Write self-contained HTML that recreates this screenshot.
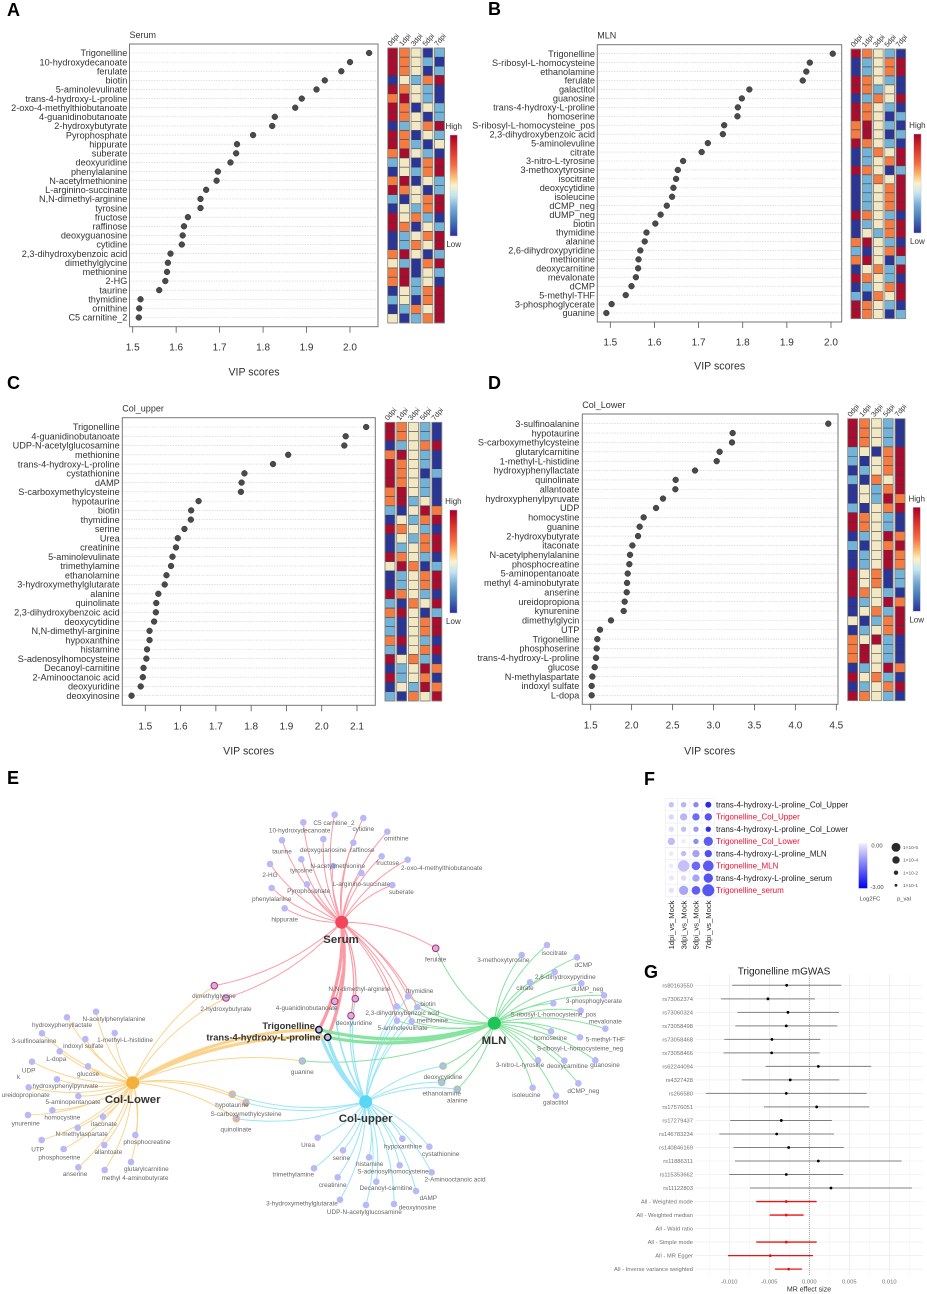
<!DOCTYPE html>
<html lang="en">
<head>
<meta charset="utf-8">
<title>Trigonelline metabolomics figure</title>
<style>
html,body{margin:0;padding:0;background:#fff;width:927px;height:1294px;overflow:hidden}
svg{display:block;font-family:"Liberation Sans",Arial,sans-serif;filter:blur(.3px)}
</style>
</head>
<body>
<svg id="fig" xmlns="http://www.w3.org/2000/svg" width="927" height="1294" viewBox="0 0 927 1294">
  <defs>
    <linearGradient id="heatGrad" x1="0" y1="0" x2="0" y2="1">
      <stop offset="0" stop-color="#a50026"/><stop offset=".14" stop-color="#d73027"/>
      <stop offset=".3" stop-color="#f46d43"/><stop offset=".42" stop-color="#fdc070"/>
      <stop offset=".5" stop-color="#fbf3c8"/><stop offset=".6" stop-color="#c4e4ef"/>
      <stop offset=".72" stop-color="#74add1"/><stop offset=".86" stop-color="#4575b4"/>
      <stop offset="1" stop-color="#2a2f95"/>
    </linearGradient>
    <linearGradient id="fcGrad" x1="0" y1="0" x2="0" y2="1">
      <stop offset="0" stop-color="#f1eefb"/><stop offset="1" stop-color="#0000ee"/>
    </linearGradient>
  </defs>
  <text x="7" y="16" font-size="18" font-weight="700" fill="#000">A</text>
  <text x="488" y="15" font-size="18" font-weight="700" fill="#000">B</text>
  <text x="7" y="389" font-size="18" font-weight="700" fill="#000">C</text>
  <text x="488" y="389" font-size="18" font-weight="700" fill="#000">D</text>
  <text x="7" y="784" font-size="18" font-weight="700" fill="#000">E</text>
  <text x="644" y="785" font-size="18" font-weight="700" fill="#000">F</text>
  <text x="644" y="978" font-size="18" font-weight="700" fill="#000">G</text>
  <g id="panels"></g>
  <g id="network"></g>
  <g id="dotmatrix"></g>
  <g id="forest"></g>
</svg>
<script>
/* ---------- heatmap level codes ---------- */
const R=2,O=1,Y=0,B=-1,N=-2;

/* ---------- Panel A data ---------- */
const labelsA=["Trigonelline","10-hydroxydecanoate","ferulate","biotin","5-aminolevulinate","trans-4-hydroxy-L-proline","2-oxo-4-methylthiobutanoate","4-guanidinobutanoate","2-hydroxybutyrate","Pyrophosphate","hippurate","suberate","deoxyuridine","phenylalanine","N-acetylmethionine","L-arginino-succinate","N,N-dimethyl-arginine","tyrosine","fructose","raffinose","deoxyguanosine","cytidine","2,3-dihydroxybenzoic acid","dimethylglycine","methionine","2-HG","taurine","thymidine","ornithine","C5 carnitine_2"];
const vipA=[2.044,2.0,1.98,1.942,1.923,1.889,1.874,1.827,1.821,1.777,1.74,1.738,1.725,1.696,1.693,1.669,1.656,1.656,1.627,1.618,1.615,1.613,1.587,1.581,1.579,1.575,1.561,1.518,1.515,1.514];
const ticksA=[1.5,1.6,1.7,1.8,1.9,2.0];
const heatA=[[R,O,Y,N,B],[R,O,Y,B,N],[R,O,Y,N,B],[N,Y,B,O,R],[R,O,Y,B,N],[O,R,Y,B,N],[R,O,N,Y,B],[R,O,Y,N,B],[N,B,Y,O,R],[R,O,N,Y,B],[R,O,B,N,Y],[O,R,Y,B,N],[B,Y,N,O,R],[N,Y,B,O,R],[O,R,N,Y,B],[R,O,Y,N,B],[B,N,Y,O,R],[N,Y,B,O,R],[R,Y,O,B,N],[R,O,N,Y,B],[N,B,Y,O,R],[N,B,O,Y,R],[O,R,Y,N,B],[Y,B,N,O,R],[O,R,N,Y,B],[O,R,B,Y,N],[N,Y,B,O,R],[B,Y,N,O,R],[N,B,O,Y,R],[Y,N,B,O,R]];

/* ---------- Panel B data ---------- */
const labelsB=["Trigonelline","S-ribosyl-L-homocysteine","ethanolamine","ferulate","galactitol","guanosine","trans-4-hydroxy-L-proline","homoserine","S-ribosyl-L-homocysteine_pos","2,3-dihydroxybenzoic acid","5-aminolevuline","citrate","3-nitro-L-tyrosine","3-methoxytyrosine","isocitrate","deoxycytidine","isoleucine","dCMP_neg","dUMP_neg","biotin","thymidine","alanine","2,6-dihydroxypyridine","methionine","deoxycarnitine","mevalonate","dCMP","5-methyl-THF","3-phosphoglycerate","guanine"];
const vipB=[2.004,1.952,1.944,1.936,1.815,1.798,1.789,1.788,1.758,1.755,1.721,1.707,1.665,1.653,1.649,1.643,1.640,1.628,1.614,1.602,1.582,1.578,1.568,1.564,1.563,1.558,1.548,1.535,1.503,1.491];
const ticksB=[1.5,1.6,1.7,1.8,1.9,2.0];
const heatB=[[R,O,Y,B,N],[N,B,Y,O,R],[N,B,Y,O,R],[R,O,Y,B,N],[R,O,B,Y,N],[N,B,O,Y,R],[R,O,Y,B,N],[R,O,Y,N,B],[O,R,Y,B,N],[O,R,Y,N,B],[R,O,Y,B,N],[N,B,O,Y,R],[N,B,Y,O,R],[R,O,Y,N,B],[N,B,O,Y,R],[N,B,Y,O,R],[N,B,Y,O,R],[N,B,Y,O,R],[R,O,Y,B,N],[N,B,Y,O,R],[N,Y,B,O,R],[O,R,Y,B,N],[B,N,Y,O,R],[O,R,Y,N,B],[N,Y,O,B,R],[R,O,Y,B,N],[N,B,Y,O,R],[B,N,O,Y,R],[R,O,Y,B,N],[R,O,Y,N,B]];

/* ---------- Panel C data ---------- */
const labelsC=["Trigonelline","4-guanidinobutanoate","UDP-N-acetylglucosamine","methionine","trans-4-hydroxy-L-proline","cystathionine","dAMP","S-carboxymethylcysteine","hypotaurine","biotin","thymidine","serine","Urea","creatinine","5-aminolevulinate","trimethylamine","ethanolamine","3-hydroxymethylglutarate","alanine","quinolinate","2,3-dihydroxybenzoic acid","deoxycytidine","N,N-dimethyl-arginine","hypoxanthine","histamine","S-adenosylhomocysteine","Decanoyl-carnitine","2-Aminooctanoic acid","deoxyuridine","deoxyinosine"];
const vipC=[2.126,2.068,2.064,1.905,1.862,1.781,1.773,1.771,1.651,1.630,1.629,1.611,1.592,1.587,1.577,1.573,1.560,1.555,1.537,1.531,1.530,1.525,1.512,1.512,1.505,1.503,1.495,1.493,1.487,1.461];
const ticksC=[1.5,1.6,1.7,1.8,1.9,2.0,2.1];
const heatC=[[R,O,Y,B,N],[R,O,Y,B,N],[N,B,Y,O,R],[O,R,Y,B,N],[R,O,Y,B,N],[R,O,Y,N,B],[R,O,Y,B,N],[O,R,Y,B,N],[O,R,B,Y,N],[B,N,Y,R,O],[N,Y,B,O,R],[R,O,Y,B,N],[N,Y,B,O,R],[N,B,Y,O,R],[R,O,Y,B,N],[Y,R,O,N,B],[N,B,Y,O,R],[N,B,Y,O,R],[R,O,Y,B,N],[B,N,O,Y,R],[O,R,Y,N,B],[B,N,Y,O,R],[B,N,Y,O,R],[O,R,Y,B,N],[B,N,Y,O,R],[R,Y,O,B,N],[N,B,Y,R,O],[R,B,Y,O,N],[N,Y,B,R,O],[B,N,O,Y,R]];

/* ---------- Panel D data ---------- */
const labelsD=["3-sulfinoalanine","hypotaurine","S-carboxymethylcysteine","glutarylcarnitine","1-methyl-L-histidine","hydroxyphenyllactate","quinolinate","allantoate","hydroxyphenylpyruvate","UDP","homocystine","guanine","2-hydroxybutyrate","itaconate","N-acetylphenylalanine","phosphocreatine","5-aminopentanoate","methyl 4-aminobutyrate","anserine","ureidopropiona","kynurenine","dimethylglycin","UTP","Trigonelline","phosphoserine","trans-4-hydroxy-L-proline","glucose","N-methylaspartate","indoxyl sulfate","L-dopa"];
const vipD=[4.402,3.234,3.226,3.075,3.039,2.774,2.538,2.534,2.383,2.298,2.147,2.098,2.078,2.009,1.980,1.972,1.952,1.944,1.940,1.915,1.903,1.748,1.614,1.581,1.573,1.565,1.549,1.520,1.512,1.512];
const ticksD=[1.5,2.0,2.5,3.0,3.5,4.0,4.5];
const heatD=[[R,O,Y,B,N],[R,O,Y,B,N],[R,O,Y,B,N],[B,Y,N,O,R],[B,N,Y,O,R],[N,B,Y,O,R],[B,N,O,Y,R],[N,Y,B,O,R],[N,Y,B,R,O],[B,N,Y,O,R],[R,O,Y,B,N],[R,O,Y,B,N],[N,B,Y,R,O],[B,N,Y,O,R],[N,B,Y,R,O],[N,B,Y,R,O],[R,Y,O,N,B],[R,Y,O,N,B],[R,O,Y,B,N],[N,B,Y,R,O],[N,Y,O,B,R],[Y,N,B,O,R],[N,B,Y,O,R],[O,Y,R,B,N],[O,R,Y,B,N],[O,R,Y,B,N],[N,B,Y,R,O],[R,Y,O,B,N],[N,B,Y,O,R],[R,O,Y,B,N]];

const timepoints=["0dpi","1dpi","3dpi","5dpi","7dpi"];
const heatLegendLabels=["High","Low"];

/* ---------- Panel E network (layout coordinates, not measured values) ---------- */
const hubNames=["Serum","MLN","Col-upper","Col-Lower"];
const serumLeaves=[["C5 carnitine_2",344,134,342,158],["cytidine",430,144,430,177],["10-hydroxydecanoate",250,157,239,181],["ornithine",502,185,529,205],["taurine",186,211,186,244],["deoxyguanosine",310,207,310,240],["raffinose",400,218,427,239],["2-HG",150,282,150,314],["tyrosine",244,268,244,301],["N-acetylmethionine",339,288,353,287],["fructose",485,259,503,279],["2-oxo-4-methylthiobutanoate",563,269,665,294],["L-arginino-succinate",424,309,424,342],["Pyrophosphate",261,343,266,362],["suberate",517,345,544,366],["phenylalanine",155,354,155,387],["hippurate",194,415,194,448]];
const mlnLeaves=[["isocitrate",201,75,223,98],["3-methoxytyrosine",125,105,70,120],["dCMP",291,112,310,135],["2,6-dihydroxypyridine",224,156,256,170],["citrate",150,187,135,204],["dUMP_neg",304,190,322,207],["3-phosphoglycerate",372,226,342,243],["S-ribosyl-L-homocysteine_pos",220,250,220,283],["mevalonate",302,272,376,304],["5-methyl-THF",376,326,376,358],["S-ribosyl-L-homocysteine_neg",300,352,300,385],["homoserine",213,334,211,354],["guanosine",346,421,375,434],["3-nitro-L-tyrosine",174,421,120,434],["deoxycarnitine",253,422,262,438],["dCMP_neg",295,490,310,512],["isoleucine",158,503,139,524],["galactitol",228,527,227,547]];
const upperLeaves=[["Urea",293,353,264,374],["hypoxanthine",547,356,549,379],["cystathionine",628,380,662,401],["serine",369,391,364,414],["histamine",447,412,449,432],["S-adenosylhomocysteine",539,436,519,454],["2-Aminooctanoic acid",635,457,705,478],["trimethylamine",282,445,220,463],["creatinine",353,472,338,494],["Decanoyl-carnitine",469,485,498,503],["dAMP",588,513,625,533],["3-hydroxymethylglutarate",360,539,246,550],["UDP-N-acetylglucosamine",438,555,433,575],["deoxyinosine",522,552,592,562]];
const lowerLeaves=[["N-acetylphenylalanine",288,65,342,87],["hydroxyphenyllactate",201,82,186,105],["3-sulfinoalanine",126,130,102,152],["1-methyl-L-histidine",344,129,375,149],["indoxyl sulfate",256,147,250,167],["L-dopa",179,184,169,206],["UDP",96,215,86,241],["glucose",264,229,264,251],["hydroxyphenylpyruvate",171,268,196,287],["ureidopropionate",86,292,77,315],["5-aminopentanoate",235,318,219,336],["homocystine",157,361,187,382],["ynurenine",84,375,77,400],["itaconate",309,380,312,401],["N-methylaspartate",233,413,245,432],["phosphocreatine",406,435,441,455],["UTP",125,450,113,478],["allantoate",313,465,325,485],["phosphoserine",191,477,178,502],["anserine",235,532,225,552],["methyl 4-aminobutyrate",314,540,405,564],["glutarylcarnitine",393,516,439,537]];
/* name, x, y, labelX, labelY, hubs (S M U L), ring hub, edge weight */
const sharedLeaves=[
["dimethylglycine",214.3,985.7,214,996,"SL","S",1],
["2-hydroxybutyrate",226,998,226,1008.7,"SL","S",1],
["ferulate",435.7,948.3,435.7,959.3,"SM","S",1],
["4-guanidinobutanoate",334.7,1001.3,306.7,1007.7,"SU","S",1.6],
["N,N-dimethyl-arginine",355.3,998.7,359.3,989,"SU","S",1.2],
["deoxyuridine",351,1015.7,354,1022.7,"SU","S",1.2],
["thymidine",408,996.3,419.7,990.7,"SMU","",1],
["biotin",417.3,1007,428,1004,"SMU","",1],
["2,3-dihydroxybenzoic acid",396.7,1006.3,402.3,1012.7,"SMU","",1],
["5-aminolevulinate",397,1020.7,402.7,1027.7,"SMU","",1],
["methionine",411.7,1021.3,432.3,1020.3,"SMU","",1],
["guanine",302.3,1061,302.3,1072,"ML","M",1],
["deoxycytidine",443,1066,443,1077,"UM","M",1],
["ethanolamine",441.7,1082.3,441.7,1093.3,"UM","M",1],
["alanine",457.3,1089.3,457.3,1100.3,"UM","M",1],
["hypotaurine",232.3,1094.3,232,1105,"UL","L",1],
["S-carboxymethylcysteine",246,1102.7,246,1114,"UL","L",1],
["quinolinate",236.3,1118.7,236,1129.3,"UL","L",1]
];

/* ---------- Panel F data ---------- */
const fRowLabels=["trans-4-hydroxy-L-proline_Col_Upper","Trigonelline_Col_Upper","trans-4-hydroxy-L-proline_Col_Lower","Trigonelline_Col_Lower","trans-4-hydroxy-L-proline_MLN","Trigonelline_MLN","trans-4-hydroxy-L-proline_serum","Trigonelline_serum"];
const fColLabels=["1dpi_vs_Mock","3dpi_vs_Mock","5dpi_vs_Mock","7dpi_vs_Mock"];
const fLog2FC=[[-.57,-.76,-1.29,-2.49],[-.31,-.73,-1.65,-1.96],[-.26,-.62,-1.08,-2.41],[-.65,-.09,-1.25,-1.84],[-.09,-.65,-.99,-2.02],[-.07,-.59,-1.68,-1.87],[-.11,-.28,-.94,-1.96],[-.19,-.93,-1.81,-1.93]];
const fMinusLogP=[[2.4,2.4,2.4,2.8],[2.4,3.7,3.7,3.7],[2.4,2.4,2.4,2.4],[3.7,1.5,2.4,5],[1.9,2.4,3.7,3.7],[1.9,6.4,4.6,5.9],[2.4,2.4,3.7,5],[2.4,5,4.6,6.8]];
const fPvalLegend=[5,4,2,1];
const fFcLegend=["0.00","-3.00"];

/* ---------- Panel G data ---------- */
const gLabels=["rs80163550","rs73062374","rs73060324","rs73058498","rs73058468","rs73058466","rs62244094","rs4327428","rs266580","rs17576051","rs17279437","rs146783234","rs140846169","rs11886311","rs115353662","rs11122803","All - Weighted mode","All - Weighted median","All - Wald ratio","All - Simple mode","All - MR Egger","All - Inverse variance weighted"];
const gEstimate=[-.00283,-.00517,-.00267,-.00288,-.00467,-.00471,.00113,-.00238,-.00288,.00092,-.0035,-.00408,-.00258,.00113,-.00288,.00271,-.00288,-.00288,null,-.00288,-.00488,-.00258];
const gLower=[-.00963,-.01104,-.0090,-.00925,-.01063,-.01071,-.00546,-.00842,-.01292,-.00567,-.00988,-.01125,-.00946,-.00929,-.01,-.00742,-.00663,-.00496,null,-.00663,-.01017,-.00429];
const gUpper=[.0040,.00071,.00371,.0035,.00138,.00129,.00775,.00375,.00717,.0075,.00283,.00308,.00429,.01154,.00425,.01283,.00092,-.00071,null,.00092,.00046,-.00092];
const gTicks=[-.01,-.005,0,.005,.01];
const gSummaryFlags=[0,0,0,0,0,0,0,0,0,0,0,0,0,0,0,0,1,1,1,1,1,1];

/* ---------- helpers ---------- */
const SVGNS="http://www.w3.org/2000/svg";
function mk(tag,attrs,parent,text){
  const e=document.createElementNS(SVGNS,tag);
  for(const k in attrs)e.setAttribute(k,attrs[k]);
  if(text!==undefined)e.textContent=text;
  parent.appendChild(e);
  return e;
}
function linear(v0,p0,v1,p1){return v=>p0+(v-v0)*(p1-p0)/(v1-v0);}
const heatPalette={"2":"#a80c2e","1":"#f47b41","0":"#f2e8c3","-1":"#74b3d8","-2":"#2a3596"};

/* ---------- VIP panels ---------- */
function vipPanel(cfg){
  const root=document.getElementById("panels");
  const g=mk("g",{},root);
  
  
  const x=linear(cfg.v0,cfg.p0,cfg.v1,cfg.p1);
  const n=cfg.labels.length;
  const y=i=>cfg.rowTop+i*(cfg.rowBot-cfg.rowTop)/(n-1);
  const title=mk("text",{x:cfg.fx0,y:cfg.fy0-6,"font-size":9,fill:"#333"},g,cfg.title);
  
  
  const frame=mk("rect",{x:cfg.fx0,y:cfg.fy0,width:cfg.fx1-cfg.fx0,height:cfg.fy1-cfg.fy0,fill:"#fff",stroke:"#777","stroke-width":1},g);
  
  
  for(let i=0;i<n;i++){
    const line=mk("line",{x1:cfg.fx0+1,x2:cfg.fx1-1,y1:y(i),y2:y(i),stroke:"#c9c9c9","stroke-width":.6,"stroke-dasharray":"1.3 1.3"},g);
    
    
    const lab=mk("text",{x:cfg.labelEnd,y:y(i)+3.2,"font-size":9.15,fill:"#333","text-anchor":"end"},g,cfg.labels[i]);
    
    
    const dot=mk("circle",{cx:x(cfg.vip[i]),cy:y(i),r:2.9,fill:"#4a4a4a",stroke:"#2e2e2e","stroke-width":.5},g);
    
    
  }
  cfg.ticks.forEach(t=>{
    const tk=mk("line",{x1:x(t),x2:x(t),y1:cfg.fy1,y2:cfg.fy1+6,stroke:"#555","stroke-width":.8},g);
    
    
    const tl=mk("text",{x:x(t),y:cfg.tickY+3.6,"font-size":10,fill:"#333","text-anchor":"middle"},g,t.toFixed(1));
    
    
  });
  const xt=mk("text",{x:cfg.xlabelX,y:cfg.xlabelY+3.6,"font-size":10.6,fill:"#333","text-anchor":"middle"},g,"VIP scores");
  
  
  /* heatmap */
  const cellH=(cfg.hy1-cfg.hy0)/n;
  timepoints.forEach((tp,c)=>{
    const cx=cfg.hx0+c*cfg.hStep;
    for(let r=0;r<n;r++){
      const cell=mk("rect",{x:cx,y:cfg.hy0+r*cellH,width:cfg.hW,height:cellH,fill:heatPalette[String(cfg.heat[r][c])],stroke:"#3a3a44","stroke-width":.5},g);
      
      
    }
    const col=mk("rect",{x:cx,y:cfg.hy0,width:cfg.hW,height:cfg.hy1-cfg.hy0,fill:"none",stroke:"#8c8c80","stroke-width":.8},g);
    
    
    const hd=mk("text",{x:0,y:0,"font-size":7.2,fill:"#333",transform:"translate("+(cx+cfg.hW/2-2)+","+(cfg.hy0-1.5)+") rotate(-50)"},g,tp);
    
    
  });
  const bar=mk("rect",{x:cfg.cbx,y:cfg.cby0,width:7.4,height:cfg.cby1-cfg.cby0,fill:"url(#heatGrad)",stroke:"#c8c8ee","stroke-width":.5},g);
  
  
  const hi=mk("text",{x:cfg.cbx+3.7,y:cfg.cby0-6,"font-size":8,fill:"#333","text-anchor":"middle"},g,heatLegendLabels[0]);
  
  
  const lo=mk("text",{x:cfg.cbx+3.7,y:cfg.cby1+11,"font-size":8,fill:"#333","text-anchor":"middle"},g,heatLegendLabels[1]);
  
  
}
vipPanel({title:"Serum",labels:labelsA,vip:vipA,heat:heatA,ticks:ticksA,v0:1.5,p0:132.7,v1:2.0,p1:350,fx0:129.5,fx1:378,fy0:44,fy1:326.7,rowTop:53,rowBot:317.5,labelEnd:127.3,tickY:347,xlabelX:254,xlabelY:372,hx0:387.7,hStep:11.7,hW:10,hy0:48,hy1:323,cbx:450,cby0:135,cby1:236});
vipPanel({title:"MLN",labels:labelsB,vip:vipB,heat:heatB,ticks:ticksB,v0:1.5,p0:610.3,v1:2.0,p1:831,fx0:597.3,fx1:841.7,fy0:44.7,fy1:322,rowTop:53.7,rowBot:313,labelEnd:595,tickY:341.7,xlabelX:719.7,xlabelY:366,hx0:851,hStep:11.25,hW:9.7,hy0:49,hy1:318.7,cbx:913.7,cby0:134,cby1:233});
vipPanel({title:"Col_upper",labels:labelsC,vip:vipC,heat:heatC,ticks:ticksC,v0:1.5,p0:145.3,v1:2.1,p1:357,fx0:122.3,fx1:375.3,fy0:417.7,fy1:705.3,rowTop:427,rowBot:695.7,labelEnd:119.7,tickY:725.7,xlabelX:248.7,xlabelY:750.7,hx0:385,hStep:11.7,hW:10,hy0:422.3,hy1:701,cbx:449.7,cby0:510,cby1:613});
vipPanel({title:"Col_Lower",labels:labelsD,vip:vipD,heat:heatD,ticks:ticksD,v0:1.5,p0:590.7,v1:4.5,p1:836.3,fx0:582.3,fx1:838,fy0:414,fy1:704.3,rowTop:423.7,rowBot:695.3,labelEnd:579.3,tickY:725,xlabelX:709.7,xlabelY:750.7,hx0:847.7,hStep:11.83,hW:10,hy0:418.7,hy1:700.7,cbx:913,cby0:507.3,cby1:611.3});

/* ---------- Network ---------- */
(function(){
  const root=document.getElementById("network");
  const hubs={S:{x:341.7,y:922.3,lx:341,ly:939,name:hubNames[0],c:"#f2475a",e:"#fb9ba5"},
              M:{x:494.3,y:1023.3,lx:494,ly:1040,name:hubNames[1],c:"#1fc456",e:"#86e3a0"},
              U:{x:365.7,y:1101.7,lx:365.7,ly:1118,name:hubNames[2],c:"#58d6f6",e:"#98e5f7"},
              L:{x:132.7,y:1082.7,lx:132.7,ly:1099,name:hubNames[3],c:"#f2b13b",e:"#fad48c"}};
  const rings={S:"#e0204a",M:"#93cf82",L:"#f5b84a"};
  const nodes=[];
  const add=(rows,ox,oy,h)=>rows.forEach(r=>nodes.push({name:r[0],x:ox+r[1]/3,y:oy+r[2]/3,lx:ox+r[3]/3,ly:oy+r[4]/3,hubs:h,ring:"",w:1}));
  add(serumLeaves,220,770,"S");
  add(mlnLeaves,480,920,"M");
  add(upperLeaves,220,1020,"U");
  add(lowerLeaves,0,990,"L");
  sharedLeaves.forEach(r=>nodes.push({name:r[0],x:r[1],y:r[2],lx:r[3],ly:r[4],hubs:r[5],ring:r[6],w:r[7]}));
  const edgeLayer=mk("g",{fill:"none"},root);
  
  
  function edge(h,tx,ty,w){
    const dx=tx-h.x,dy=ty-h.y,k=.14;
    const cx=(h.x+tx)/2+dy*k,cy=(h.y+ty)/2-dx*k;
    const p=mk("path",{d:"M"+h.x+" "+h.y+"Q"+cx+" "+cy+" "+tx+" "+ty,stroke:h.e,"stroke-width":w},edgeLayer);
    
    
  }
  nodes.forEach(n=>{for(const c of n.hubs)edge(hubs[c],n.x,n.y,n.w);});
  const tri={x:318.9,y:1029.7},tr={x:327.7,y:1037.3};
  ["S","M","U","L"].forEach(c=>{edge(hubs[c],tri.x,tri.y,3.2);edge(hubs[c],tr.x,tr.y,3.2);});
  nodes.forEach(n=>{
    const a={cx:n.x,cy:n.y,r:3.3,fill:"#b9b9f7"};
    if(n.ring){a.stroke=rings[n.ring];a["stroke-width"]=1;}
    const c=mk("circle",a,root);
    
    
  });
  nodes.forEach(n=>{
    const t=mk("text",{x:n.lx,y:n.ly+2.2,"font-size":6.4,fill:"#666","text-anchor":"middle"},root,n.name);
    
    
  });
  const stray=mk("text",{x:18.5,y:1079,"font-size":6.4,fill:"#666","text-anchor":"middle"},root,"k");
  
  
  [tri,tr].forEach(p=>{
    const c=mk("circle",{cx:p.x,cy:p.y,r:3.2,fill:"#b9b9f7",stroke:"#111","stroke-width":1.4},root);
    
    
  });
  const l1=mk("text",{x:315,y:1029.2,"font-size":9.4,"font-weight":700,fill:"#333","text-anchor":"end"},root,"Trigonelline");
  
  
  const l2=mk("text",{x:320.5,y:1040.5,"font-size":9.4,"font-weight":700,fill:"#333","text-anchor":"end"},root,"trans-4-hydroxy-L-proline");
  
  
  Object.keys(hubs).forEach(k=>{
    const h=hubs[k];
    const c=mk("circle",{cx:h.x,cy:h.y,r:6.5,fill:h.c},root);
    
    
    const t=mk("text",{x:h.lx,y:h.ly+4,"font-size":11.4,"font-weight":700,fill:"#333","text-anchor":"middle"},root,h.name);
    
    
  });
})();

/* ---------- Panel F ---------- */
(function(){
  const root=document.getElementById("dotmatrix");
  const colX=i=>671.3+i*12.33;
  const rowY=i=>804.7+i*12.23;
  const rad=m=>.9+.75*m;
  function fcColor(v){
    const t=Math.min(1,Math.max(0,v/-3));
    const a=[245,240,251],b=[0,0,238];
    return "rgb("+a.map((c,i)=>Math.round(c+(b[i]-c)*t)).join(",")+")";
  }
  fRowLabels.forEach((lab,r)=>{
    fColLabels.forEach((_,c)=>{
      const cell=mk("rect",{x:colX(c)-6.16,y:rowY(r)-6.11,width:12.33,height:12.23,fill:"#fff",stroke:"#e9ecf6","stroke-width":.6},root);
      
      
    });
  });
  fRowLabels.forEach((lab,r)=>{
    fColLabels.forEach((_,c)=>{
      const dot=mk("circle",{cx:colX(c),cy:rowY(r),r:rad(fMinusLogP[r][c]),fill:fcColor(fLog2FC[r][c])},root);
      
      
    });
    const red=lab.indexOf("Trigonelline")===0;
    const t=mk("text",{x:716,y:rowY(r)+2.8,"font-size":8,fill:red?"#ee1133":"#222"},root,lab);
    
    
  });
  fColLabels.forEach((lab,c)=>{
    const t=mk("text",{x:0,y:0,"font-size":7.65,fill:"#222","text-anchor":"end",transform:"translate("+(colX(c)+2.7)+",900.5) rotate(-90)"},root,lab);
    
    
  });
  const bar=mk("rect",{x:858.7,y:843.3,width:8.6,height:45,fill:"url(#fcGrad)"},root);
  
  
  const a=mk("text",{x:877,y:847.3,"font-size":5.8,fill:"#444","text-anchor":"middle"},root,fFcLegend[0]);
  
  
  const b=mk("text",{x:877,y:889,"font-size":5.8,fill:"#444","text-anchor":"middle"},root,fFcLegend[1]);
  
  
  const lf=mk("text",{x:870,y:900.7,"font-size":5.8,fill:"#444","text-anchor":"middle"},root,"Log2FC");
  
  
  const lp=mk("text",{x:904,y:900.7,"font-size":5.8,fill:"#444","text-anchor":"middle"},root,"p_val");
  
  
  fPvalLegend.forEach((e,i)=>{
    const y=847.3+i*12.67;
    const d=mk("circle",{cx:896,cy:y,r:rad(e)-.2,fill:"#2a2a2a"},root);
    
    
    const t=mk("text",{x:903,y:y+1.7,"font-size":4.8,fill:"#555"},root,"1×10-"+e);
    
    
  });
})();

/* ---------- Panel G ---------- */
(function(){
  const root=document.getElementById("forest");
  const x=linear(0,809.3,.01,889.3);
  const y=i=>985.3+i*13.515;
  const top=974,bot=1275,L=695,Rt=922.7;
  for(let v=-.0125;v<=.01251;v+=.0025){
    const major=Math.abs(Math.round(v/.0025))%2===0;
    const g=mk("line",{x1:x(v),x2:x(v),y1:top,y2:bot,stroke:major?"#e6e6e6":"#f2f2f2","stroke-width":major?.7:.5},root);
    
    
  }
  gLabels.forEach((lab,i)=>{
    const g=mk("line",{x1:L,x2:Rt,y1:y(i),y2:y(i),stroke:"#e9e9e9","stroke-width":.6},root);
    
    
    const t=mk("text",{x:693,y:y(i)+2,"font-size":5.8,fill:"#707070","text-anchor":"end"},root,lab);
    
    
  });
  const zero=mk("line",{x1:x(0),x2:x(0),y1:top,y2:bot,stroke:"#888","stroke-width":.7,"stroke-dasharray":"1 1"},root);
  
  
  gLabels.forEach((lab,i)=>{
    if(gEstimate[i]===null)return;
    const red=gSummaryFlags[i]===1;
    const l=mk("line",{x1:x(gLower[i]),x2:x(gUpper[i]),y1:y(i),y2:y(i),stroke:red?"#f01010":"#808080","stroke-width":red?1.3:1},root);
    
    
    const d=mk("circle",{cx:x(gEstimate[i]),cy:y(i),r:1.4,fill:red?"#d81818":"#000"},root);
    
    
  });
  gTicks.forEach(v=>{
    const t=mk("text",{x:x(v),y:1283.6,"font-size":5.8,fill:"#707070","text-anchor":"middle"},root,v.toFixed(3));
    
    
  });
  const xt=mk("text",{x:809,y:1291.5,"font-size":7,fill:"#333","text-anchor":"middle"},root,"MR effect size");
  
  
  const tt=mk("text",{x:784,y:974.5,"font-size":10,fill:"#222","text-anchor":"middle"},root,"Trigonelline mGWAS");
  
  
})();
</script>
</body>
</html>
